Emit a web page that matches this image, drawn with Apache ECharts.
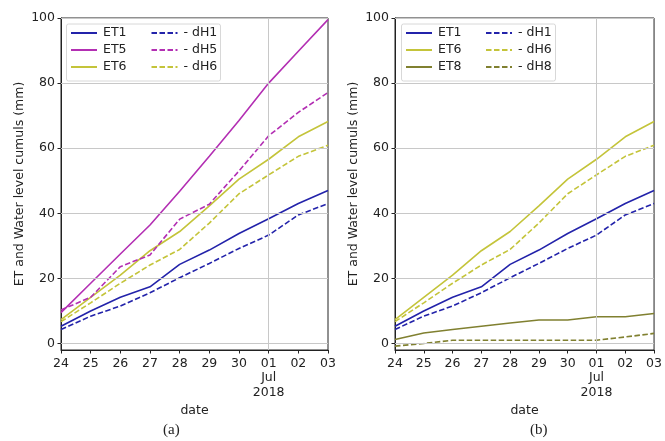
<!DOCTYPE html>
<html>
<head>
<meta charset="utf-8">
<script src="https://cdn.jsdelivr.net/npm/echarts@6/dist/echarts.min.js"></script>
<style>html,body{margin:0;padding:0;background:#fff}#c{width:665px;height:441px}</style>
</head>
<body>
<div id="c"></div>
<script>
var categories = ['24','25','26','27','28','29','30','01','02','03'];
var xTickLabels = ['24','25','26','27','28','29','30','01\nJul\n2018','02','03'];
var yTicks = [0, 20, 40, 60, 80, 100];
var vGridAt = ['01'];

var ET1 = [5.3, 10.0, 14.2, 17.4, 24.3, 28.7, 33.8, 38.3, 43.0, 47.0];
var dH1 = [4.3, 8.4, 11.5, 15.6, 20.2, 24.6, 29.2, 33.3, 39.5, 43.0];
var ET5 = [9.5, 18.5, 27.5, 36.4, 46.8, 57.5, 68.5, 80.0, 89.8, 99.5];
var dH5 = [10.3, 14.2, 23.6, 27.2, 38.2, 42.8, 53.0, 63.8, 71.0, 77.1];
var ET6 = [7.3, 14.2, 21.0, 28.5, 34.4, 42.3, 50.5, 56.6, 63.5, 68.2];
var dH6 = [6.7, 12.5, 18.5, 24.1, 28.9, 37.0, 46.0, 51.8, 57.5, 60.9];
var ET8 = [1.2, 3.2, 4.3, 5.3, 6.3, 7.2, 7.2, 8.2, 8.2, 9.2];
var dH8 = [-0.8, 0.0, 1.0, 1.0, 1.0, 1.0, 1.0, 1.0, 2.0, 3.1];

var C_BLUE = '#2323aa', C_MAG = '#b32fb3', C_YEL = '#c4c43a', C_OLV = '#808030';
var FONT = 'DejaVu Sans';

var chart = echarts.init(document.getElementById('c'), null, {renderer: 'canvas'});

var grids = [
  {left: 61, right: 337, top: 18, bottom: 91},
  {left: 395, right: 3, top: 18, bottom: 91}
];

function xAxis(i) {
  return {
    type: 'category', gridIndex: i, data: categories, boundaryGap: false,
    name: 'date', nameLocation: 'middle', nameGap: 47,
    nameTextStyle: {fontFamily: FONT, fontSize: 12.5, color: '#222'},
    axisLine: {onZero: false, lineStyle: {color: '#222', width: 1}},
    axisTick: {show: true, length: 3.5, alignWithLabel: true, lineStyle: {color: '#222'}},
    axisLabel: {interval: 0, fontFamily: FONT, fontSize: 12.5, color: '#222', margin: 6, lineHeight: 14.5,
      formatter: function (v, idx) { return xTickLabels[idx]; }},
    splitLine: {show: false}
  };
}
function yAxis(i) {
  return {
    type: 'value', gridIndex: i, min: -2, max: 100,
    name: 'ET and Water level cumuls (mm)', nameLocation: 'middle', nameGap: 35,
    nameTextStyle: {fontFamily: FONT, fontSize: 12.5, color: '#222'},
    axisLine: {show: true, lineStyle: {color: '#222', width: 1}},
    axisTick: {show: true, length: 3.5, customValues: yTicks, lineStyle: {color: '#222'}},
    axisLabel: {fontFamily: FONT, fontSize: 12.5, color: '#222', margin: 6, customValues: yTicks},
    splitLine: {show: false}
  };
}

function gridSeries(i) {
  var data = yTicks.map(function (v) { return {yAxis: v}; });
  vGridAt.forEach(function (c) { data.push({xAxis: c}); });
  return {
    type: 'line', xAxisIndex: i, yAxisIndex: i, data: [], z: 1, silent: true,
    markLine: {silent: true, symbol: 'none', label: {show: false},
      lineStyle: {color: '#c8c8c8', width: 1, type: 'solid'}, data: data, animation: false}
  };
}

function line(name, data, color, dashed, i) {
  return {
    type: 'line', name: name, data: data, xAxisIndex: i, yAxisIndex: i,
    showSymbol: false, symbol: 'none', z: 3, animation: false,
    lineStyle: {color: color, width: 1.6, type: dashed ? [5.5, 2.5] : 'solid'},
    itemStyle: {color: color}
  };
}

var series = [
  gridSeries(0), gridSeries(1),
  line('ET1', ET1, C_BLUE, false, 0),
  line('ET5', ET5, C_MAG, false, 0),
  line('ET6', ET6, C_YEL, false, 0),
  line('- dH1', dH1, C_BLUE, true, 0),
  line('- dH5', dH5, C_MAG, true, 0),
  line('- dH6', dH6, C_YEL, true, 0),
  line('ET1 ', ET1, C_BLUE, false, 1),
  line('ET6 ', ET6, C_YEL, false, 1),
  line('ET8', ET8, C_OLV, false, 1),
  line('- dH1 ', dH1, C_BLUE, true, 1),
  line('- dH6 ', dH6, C_YEL, true, 1),
  line('- dH8', dH8, C_OLV, true, 1)
];

function legend(left, names) {
  return {
    orient: 'vertical', left: left, top: 26.5, itemWidth: 26, itemHeight: 14, itemGap: 4,
    selectedMode: false, z: 20,
    itemStyle: {color: 'rgba(0,0,0,0)', borderColor: 'rgba(0,0,0,0)', borderWidth: 0},
    textStyle: {fontFamily: FONT, fontSize: 12.5, color: '#222', padding: [0, 0, 0, 1]},
    formatter: function (n) { return n.trim(); },
    data: names, padding: 0
  };
}

var option = {
  backgroundColor: '#fff',
  animation: false,
  grid: grids.map(function (g) { return Object.assign({show: true, borderColor: '#222', borderWidth: 1, backgroundColor: 'transparent'}, g); }),
  xAxis: [xAxis(0), xAxis(1)],
  yAxis: [yAxis(0), yAxis(1)],
  legend: [
    legend(70, ['ET1', 'ET5', 'ET6']),
    legend(150.5, ['- dH1', '- dH5', '- dH6']),
    legend(405, ['ET1 ', 'ET6 ', 'ET8']),
    legend(485, ['- dH1 ', '- dH6 ', '- dH8'])
  ],
  graphic: [
    {type: 'rect', z: 0, shape: {x: 66.5, y: 24, width: 154, height: 57, r: 2}, style: {fill: 'none', stroke: '#d8d8d8', lineWidth: 1}},
    {type: 'rect', z: 0, shape: {x: 401.5, y: 24, width: 154, height: 57, r: 2}, style: {fill: 'none', stroke: '#d8d8d8', lineWidth: 1}},
    {type: 'text', left: 163, top: 423, style: {text: '(a)', font: '15px "Liberation Serif", serif', fill: '#222'}},
    {type: 'text', left: 530, top: 423, style: {text: '(b)', font: '15px "Liberation Serif", serif', fill: '#222'}}
  ],
  series: series
};
chart.setOption(option);
</script>
</body>
</html>
